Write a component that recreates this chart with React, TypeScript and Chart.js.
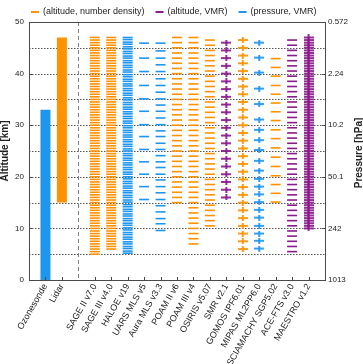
import React, { useEffect, useRef } from 'react';
import { Chart, registerables } from 'chart.js';

Chart.register(...registerables);

const FONT = "'Liberation Sans', Arial, Helvetica, sans-serif";
const ORANGE = '#FF9200';
const BLUE = '#1E96F0';
const PURPLE = '#8B1A8B';

// x categories (slot index + 1 = x position); '' is the separator slot
const categories = [
  'Ozonesonde', 'Lidar', '',
  'SAGE II v7.0', 'SAGE III v4.0', 'HALOE v19', 'UARS MLS v5', 'Aura MLS v3.3',
  'POAM II v6', 'POAM III v4', 'OSIRIS v5.07', 'SMR v2.1', 'GOMOS IPF6.01',
  'MIPAS ML2PP6.0', 'SCIAMACHY SGP5.02', 'ACE-FTS v3.0', 'MAESTRO v1.2',
];
const xMax = 18;
const separatorX = 3;

const altitudeTicks = [0, 10, 20, 30, 40, 50];
const pressureTickLabels = ['1013', '242', '50.1', '10.2', '2.24', '0.572'];
const gridAltitudes = [5, 10, 15, 20, 25, 30, 35, 40, 45];

const legendTexts = ['(altitude, number density)', '(altitude, VMR)', '(pressure, VMR)'];

// altitude ranges / levels [km]
const ozonesondeRange = [0, 33];
const lidarRange = [15, 47];
const sage2Alt = [5, 5.5, 6, 6.5, 7, 7.5, 8, 8.5, 9, 9.5, 10, 10.5, 11, 11.5, 12, 12.5, 13, 13.5, 14, 14.5, 15, 15.5, 16, 16.5, 17, 17.5, 18, 18.5, 19, 19.5, 20, 20.5, 21, 21.5, 22, 22.5, 23, 23.5, 24, 24.5, 25, 25.5, 26, 26.5, 27, 27.5, 28, 28.5, 29, 29.5, 30, 30.5, 31, 31.5, 32, 32.5, 33, 33.5, 34, 34.5, 35, 35.5, 36, 36.5, 37, 37.5, 38, 38.5, 39, 39.5, 40, 40.5, 41, 41.5, 42, 42.5, 43, 43.5, 44, 44.5, 45, 45.5, 46, 46.5, 47];
const sage3Alt = [6, 6.5, 7, 7.5, 8, 8.5, 9, 9.5, 10, 10.5, 11, 11.5, 12, 12.5, 13, 13.5, 14, 14.5, 15, 15.5, 16, 16.5, 17, 17.5, 18, 18.5, 19, 19.5, 20, 20.5, 21, 21.5, 22, 22.5, 23, 23.5, 24, 24.5, 25, 25.5, 26, 26.5, 27, 27.5, 28, 28.5, 29, 29.5, 30, 30.5, 31, 31.5, 32, 32.5, 33, 33.5, 34, 34.5, 35, 35.5, 36, 36.5, 37, 37.5, 38, 38.5, 39, 39.5, 40, 40.5, 41, 41.5, 42, 42.5, 43, 43.5, 44, 44.5, 45, 45.5, 46, 46.5, 47];
const haloeAlt = [5.2, 5.6, 6.1, 6.5, 7, 7.4, 7.9, 8.3, 8.8, 9.2, 9.7, 10.1, 10.6, 11, 11.5, 11.9, 12.4, 12.8, 13.3, 13.7, 14.2, 14.6, 15.1, 15.5, 16, 16.4, 16.9, 17.3, 17.8, 18.2, 18.7, 19.1, 19.6, 20, 20.5, 20.9, 21.4, 21.8, 22.3, 22.7, 23.2, 23.6, 24.1, 24.5, 25, 25.4, 25.9, 26.3, 26.8, 27.2, 27.7, 28.1, 28.6, 29, 29.5, 29.9, 30.4, 30.8, 31.3, 31.7, 32.2, 32.6, 33.1, 33.5, 34, 34.4, 34.9, 35.3, 35.8, 36.2, 36.7, 37.1, 37.6, 38, 38.5, 38.9, 39.4, 39.8, 40.3, 40.7, 41.2, 41.6, 42.1, 42.5, 43, 43.4, 43.9, 44.3, 44.8, 45.2, 45.7, 46.1, 46.6, 47];
const uarsMlsAlt = [45.9, 43.0, 40.4, 37.7, 35.1, 32.7, 30.1, 27.8, 25.3, 22.9, 20.5, 18.1, 15.6];
const auraMlsAlt = [45.9, 44.4, 43.0, 41.7, 40.4, 39.0, 37.7, 36.4, 35.1, 33.9, 32.7, 31.4, 30.1, 28.9, 27.8, 26.5, 25.3, 24.1, 22.9, 21.8, 20.5, 19.4, 18.1, 16.9, 15.6, 14.4, 13.2, 11.9, 10.9, 9.6];
const poam2Alt = [15, 16, 17, 18, 19, 20, 21, 22, 23, 24, 25, 26, 27, 28, 29, 30, 31, 32, 33, 34, 35, 36, 37, 38, 39, 40, 41, 42, 43, 44, 45, 46, 47];
const poam3Alt = [7, 8, 9, 10, 11, 12, 13, 14, 15, 16, 17, 18, 19, 20, 21, 22, 23, 24, 25, 26, 27, 28, 29, 30, 31, 32, 33, 34, 35, 36, 37, 38, 39, 40, 41, 42, 43, 44, 45, 46, 47];
const osirisAlt = [10.5, 11.5, 12.5, 13.5, 14.5, 15.5, 16.5, 17.5, 18.5, 19.5, 20.5, 21.5, 22.5, 23.5, 24.5, 25.5, 26.5, 27.5, 28.5, 29.5, 30.5, 31.5, 32.5, 33.5, 34.5, 35.5, 36.5, 37.5, 38.5, 39.5, 40.5, 41.5, 42.5, 43.5, 44.5, 45.5, 46.5];
const smrAlt = [16, 17.5, 19, 20.5, 22, 23.5, 25, 26.5, 28, 29.5, 31, 32.5, 34, 35.5, 37, 38.5, 40, 41.5, 43, 44.5, 46];
const gomosAlt = [6, 7.5, 9, 10.5, 12, 13.5, 15, 16.5, 18, 19.5, 21, 22.5, 24, 25.5, 27, 28.5, 30, 31.5, 33, 34.5, 36, 37.5, 39, 40.5, 42, 43.5, 45, 46.5];
const mipasAlt = [6.1, 7.6, 9.0, 10.5, 12.1, 13.6, 15.1, 16.6, 18.1, 19.6, 21.2, 23.1, 25.2, 27.1, 29.1, 31.1, 34.1, 37.1, 40.2, 43.1, 46.0];
const sciamachyAlt = [15.1, 16.8, 18.5, 20.2, 22.0, 23.8, 25.6, 27.4, 29.1, 30.9, 32.6, 34.3, 36.0, 37.7, 39.5, 41.2, 42.9];
const aceFtsAlt = [5.5, 6.5, 7.5, 8.5, 9.5, 10.5, 11.5, 12.5, 13.5, 14.5, 15.5, 16.5, 17.5, 18.5, 19.5, 20.5, 21.5, 22.5, 23.5, 24.5, 25.5, 26.5, 27.5, 28.5, 29.5, 30.5, 31.5, 32.5, 33.5, 34.5, 35.5, 36.5, 37.5, 38.5, 39.5, 40.5, 41.5, 42.5, 43.5, 44.5, 45.5, 46.5];
const maestroAlt = [10, 10.5, 11, 11.5, 12, 12.5, 13, 13.5, 14, 14.5, 15, 15.5, 16, 16.5, 17, 17.5, 18, 18.5, 19, 19.5, 20, 20.5, 21, 21.5, 22, 22.5, 23, 23.5, 24, 24.5, 25, 25.5, 26, 26.5, 27, 27.5, 28, 28.5, 29, 29.5, 30, 30.5, 31, 31.5, 32, 32.5, 33, 33.5, 34, 34.5, 35, 35.5, 36, 36.5, 37, 37.5, 38, 38.5, 39, 39.5, 40, 40.5, 41, 41.5, 42, 42.5, 43, 43.5, 44, 44.5, 45, 45.5, 46, 46.5, 47];

const legendColors = [ORANGE, PURPLE, BLUE];

const ranges = [
  { name: 'Ozonesonde', range: ozonesondeRange, color: BLUE },
  { name: 'Lidar', range: lidarRange, color: ORANGE },
];

const instruments = [
  { name: 'SAGE II v7.0', alts: sage2Alt, color: ORANGE, marker: 'line' },
  { name: 'SAGE III v4.0', alts: sage3Alt, color: ORANGE, marker: 'line' },
  { name: 'HALOE v19', alts: haloeAlt, color: BLUE, marker: 'line' },
  { name: 'UARS MLS v5', alts: uarsMlsAlt, color: BLUE, marker: 'line' },
  { name: 'Aura MLS v3.3', alts: auraMlsAlt, color: BLUE, marker: 'line' },
  { name: 'POAM II v6', alts: poam2Alt, color: ORANGE, marker: 'line' },
  { name: 'POAM III v4', alts: poam3Alt, color: ORANGE, marker: 'line' },
  { name: 'OSIRIS v5.07', alts: osirisAlt, color: ORANGE, marker: 'line' },
  { name: 'SMR v2.1', alts: smrAlt, color: PURPLE, marker: 'cross' },
  { name: 'GOMOS IPF6.01', alts: gomosAlt, color: ORANGE, marker: 'cross' },
  { name: 'MIPAS ML2PP6.0', alts: mipasAlt, color: BLUE, marker: 'cross' },
  { name: 'SCIAMACHY SGP5.02', alts: sciamachyAlt, color: ORANGE, marker: 'line' },
  { name: 'ACE-FTS v3.0', alts: aceFtsAlt, color: PURPLE, marker: 'line' },
  { name: 'MAESTRO v1.2', alts: maestroAlt, color: PURPLE, marker: 'cross' },
];

const xOf = (name: string) => categories.indexOf(name) + 1;

// "+" marker glyph: wider than tall
function makeCross(color: string): HTMLCanvasElement {
  const c = document.createElement('canvas');
  c.width = 10;
  c.height = 6;
  const g = c.getContext('2d') as CanvasRenderingContext2D;
  g.fillStyle = color;
  g.fillRect(0, 2.1, 10, 1.8);
  g.fillRect(4.1, 0, 1.8, 6);
  return c;
}

const decorPlugin = {
  id: 'decor',
  beforeDatasetsDraw(chart: any) {
    const { ctx, chartArea, scales } = chart;
    const { left, right, top, bottom } = chartArea;
    const y = scales.y;
    const x = scales.x;
    ctx.save();
    ctx.lineWidth = 1;
    ctx.strokeStyle = '#555555';
    ctx.setLineDash([1.5, 1.5]);
    for (const g of gridAltitudes) {
      const py = Math.round(y.getPixelForValue(g)) + 0.5;
      ctx.beginPath();
      ctx.moveTo(left, py);
      ctx.lineTo(right, py);
      ctx.stroke();
    }
    ctx.strokeStyle = '#808080';
    ctx.setLineDash([4, 3]);
    const sx = Math.round(x.getPixelForValue(separatorX)) + 0.5;
    ctx.beginPath();
    ctx.moveTo(sx, top);
    ctx.lineTo(sx, bottom);
    ctx.stroke();
    ctx.restore();
  },
  afterDatasetsDraw(chart: any) {
    const { ctx, chartArea, scales } = chart;
    const { left, right, top, bottom } = chartArea;
    const x = scales.x;
    const y = scales.y;
    ctx.save();
    ctx.strokeStyle = '#4a4a4a';
    ctx.lineWidth = 1;
    ctx.setLineDash([]);
    ctx.strokeRect(Math.round(left) + 0.5, Math.round(top) + 0.5, Math.round(right - left), Math.round(bottom - top));
    ctx.beginPath();
    categories.forEach((c, i) => {
      if (!c) return;
      const px = Math.round(x.getPixelForValue(i + 1)) + 0.5;
      ctx.moveTo(px, bottom);
      ctx.lineTo(px, bottom - 3);
    });
    altitudeTicks.forEach((a) => {
      const py = Math.round(y.getPixelForValue(a)) + 0.5;
      ctx.moveTo(left, py);
      ctx.lineTo(left + 3, py);
      ctx.moveTo(right, py);
      ctx.lineTo(right - 3, py);
    });
    ctx.stroke();

    // axis titles (both read bottom-to-top)
    ctx.fillStyle = '#222222';
    ctx.font = `bold 10px ${FONT}`;
    ctx.textAlign = 'center';
    ctx.textBaseline = 'middle';
    const cy = (top + bottom) / 2;
    ctx.save();
    ctx.translate(5, cy);
    ctx.rotate(-Math.PI / 2);
    ctx.fillText('Altitude [km]', 0, 0);
    ctx.restore();
    ctx.save();
    ctx.translate(359, cy + 2);
    ctx.rotate(-Math.PI / 2);
    ctx.fillText('Pressure [hPa]', 0, 0);
    ctx.restore();

    // legend
    ctx.font = `9px ${FONT}`;
    ctx.textAlign = 'left';
    ctx.textBaseline = 'middle';
    let lx = 31;
    const ly = 12;
    legendTexts.forEach((t, i) => {
      ctx.strokeStyle = legendColors[i];
      ctx.lineWidth = 2;
      ctx.beginPath();
      ctx.moveTo(lx, ly);
      ctx.lineTo(lx + 8, ly);
      ctx.stroke();
      ctx.fillStyle = '#222222';
      ctx.fillText(t, lx + 12, ly);
      lx += 12 + ctx.measureText(t).width + 11;
    });
    ctx.restore();
  },
};

export default function App() {
  const canvasRef = useRef<HTMLCanvasElement | null>(null);

  useEffect(() => {
    const canvas = canvasRef.current;
    if (!canvas) return;

    const crossCache: Record<string, HTMLCanvasElement> = {};
    const crossFor = (color: string) => (crossCache[color] = crossCache[color] || makeCross(color));

    const datasets: any[] = [];
    ranges.forEach((r) => {
      datasets.push({
        label: r.name,
        data: [
          { x: xOf(r.name), y: r.range[0] },
          { x: xOf(r.name), y: r.range[1] },
        ],
        showLine: true,
        borderColor: r.color,
        backgroundColor: r.color,
        borderWidth: 10,
        borderCapStyle: 'butt',
        pointRadius: 0,
        pointHoverRadius: 0,
      });
    });
    instruments.forEach((ins) => {
      const isLine = ins.marker === 'line';
      datasets.push({
        label: ins.name,
        data: ins.alts.map((a) => ({ x: xOf(ins.name), y: a })),
        showLine: false,
        pointStyle: isLine ? 'line' : crossFor(ins.color),
        pointRadius: 5,
        pointHoverRadius: 5,
        borderColor: ins.color,
        backgroundColor: ins.color,
        pointBorderWidth: 1.6,
        borderWidth: 1.6,
      });
    });

    const tickFont = { family: FONT, size: 8 };

    const chart = new Chart(canvas, {
      type: 'scatter',
      data: { datasets },
      plugins: [decorPlugin],
      options: {
        responsive: false,
        animation: false,
        events: [],
        devicePixelRatio: 1,
        layout: { padding: { top: 22, left: 0, right: 0, bottom: 0 } },
        plugins: {
          tooltip: { enabled: false },
          title: { display: false },
          legend: { display: false },
        },
        scales: {
          x: {
            type: 'linear',
            min: 0,
            max: xMax,
            afterBuildTicks: (s: any) => {
              s.ticks = categories
                .map((c, i) => ({ c, v: i + 1 }))
                .filter((o) => o.c)
                .map((o) => ({ value: o.v }));
            },
            afterFit: (s: any) => {
              s.height = 84;
            },
            ticks: {
              autoSkip: false,
              minRotation: 60,
              maxRotation: 60,
              padding: 2,
              color: '#222222',
              font: { family: FONT, size: 9 },
              callback: (v: any) => categories[Number(v) - 1] || '',
            },
            grid: { display: false, drawTicks: false },
            border: { display: false },
          },
          y: {
            type: 'linear',
            position: 'left',
            min: 0,
            max: 50,
            afterBuildTicks: (s: any) => {
              s.ticks = altitudeTicks.map((v) => ({ value: v }));
            },
            afterFit: (s: any) => {
              s.width = 29;
            },
            ticks: { padding: 5, color: '#222222', font: tickFont },
            grid: { display: false, drawTicks: false },
            border: { display: false },
          },
          y2: {
            type: 'linear',
            position: 'right',
            min: 0,
            max: 50,
            afterBuildTicks: (s: any) => {
              s.ticks = altitudeTicks.map((v) => ({ value: v }));
            },
            afterFit: (s: any) => {
              s.width = 38;
            },
            ticks: {
              padding: 3,
              color: '#222222',
              font: tickFont,
              callback: (v: any) => pressureTickLabels[altitudeTicks.indexOf(Number(v))],
            },
            grid: { display: false, drawTicks: false },
            border: { display: false },
          },
        },
      } as any,
    });

    return () => chart.destroy();
  }, []);

  return (
    <div style={{ position: 'fixed', left: 0, top: 0, width: 363, height: 364, background: '#ffffff' }}>
      <canvas ref={canvasRef} width={363} height={364} style={{ display: 'block', width: 363, height: 364 }} />
    </div>
  );
}
